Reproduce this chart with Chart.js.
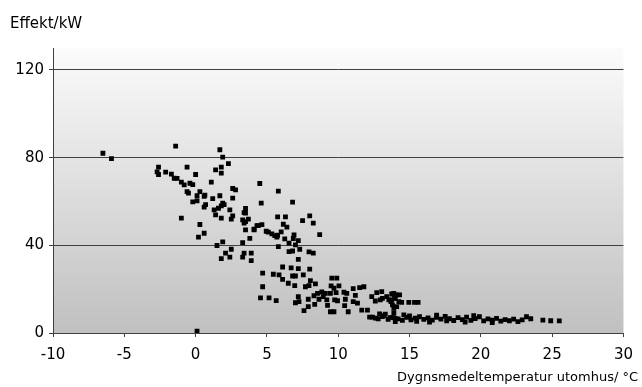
<!DOCTYPE html>
<html>
<head>
<meta charset="utf-8">
<script src="https://cdn.jsdelivr.net/npm/chart.js@4/dist/chart.umd.min.js"></script>
<style>
    html, body { margin: 0; padding: 0; background: #fff; }
    #wrap { width: 642px; height: 387px; }
</style>
</head>
<body>
<div id="wrap"><canvas id="effektChart"></canvas></div>
<script>
const yTitle = "Effekt/kW";
const xTitle = "Dygnsmedeltemperatur utomhus/ °C";

// dygnsmedeltemperatur (°C)
const temps = [
    -6.5, -5.9,
    -2.6, -2.7, -2.6, -2.1, -1.7, -1.5, -1.3, -1.4,
    -1.0, -0.8, -0.6, -0.4, -0.2, 0.0, -0.6, -0.5, 0.3, 0.1, 0.6, 0.65, -0.2, 0.1, 0.7, 0.6, -1.0, 0.3, 0.6, 0.2, 0.1,
    1.1, 1.2, 1.7, 1.9, 2.0, 1.8, 2.6, 2.8, 2.6, 1.3, 1.6, 1.4, 2.4, 2.6, 2.5, 1.8, 1.9, 1.5, 2.5, 2.1, 1.8, 2.4,
    1.7, 1.9, 2.3, 1.8, 1.4, 1.8,
    3.5, 3.4, 3.5, 3.3, 3.5, 3.7, 3.4, 4.3, 4.1, 3.5, 3.8, 3.3, 3.4, 3.9, 3.3, 3.9,
    4.5, 5.8, 4.6, 6.8,
    4.1, 4.4, 4.65, 4.95, 5.1, 5.35, 5.55, 5.7, 6.0, 5.75,
    5.75, 6.3, 6.15, 6.4,
    6.25, 6.55, 6.9, 6.85, 7.2, 7.0, 6.55, 6.8, 7.3, 5.8,
    7.5, 8.0, 8.25, 8.7, 7.95, 8.25, 7.2,
    4.7, 5.45, 4.7, 4.55, 5.15, 5.65,
    6.1, 5.85, 6.1, 6.5, 6.8, 6.7, 7.2, 7.0, 6.95, 7.55, 8.0,
    7.2, 7.0, 7.25, 7.9, 7.9, 7.6, 8.35,
    8.05, 7.7, 7.95, 8.4,
    8.55, 8.85, 9.1, 8.95, 8.3, 8.65,
    9.55, 9.9, 9.5, 9.7, 10.05, 9.45, 9.85, 9.2, 9.25, 9.45, 9.7, 9.75, 9.95,
    10.4, 10.6, 10.5, 10.45, 10.7, 11.2, 11.05, 11.35, 11.05, 11.5, 11.8,
    11.65, 12.05, 12.2, 12.6, 12.9, 13.2, 13.65, 14.0, 13.4, 13.75, 13.75, 13.9, 13.9, 12.7, 12.35, 12.6, 12.95, 14.1, 14.0,
    13.05, 13.1, 13.55, 13.7, 13.9, 13.95, 13.8, 14.1, 14.3, 14.25, 14.45, 14.95, 15.35, 15.6,
    12.4, 12.8, 13.1, 13.5, 13.8, 14.2, 14.5, 14.8, 15.1, 15.4, 15.7, 16.0, 16.3, 16.6, 16.9, 17.2, 17.5, 17.8,
    18.1, 18.4, 18.7, 19.0, 19.3, 19.6, 19.9, 20.2, 20.5, 20.8, 21.1, 21.4, 21.7, 22.0, 22.3, 22.6, 22.9, 23.2, 23.5,
    14.0, 15.0, 16.4, 17.6, 18.9, 19.5, 20.8, 15.5, 16.9, 13.3, 14.6,
    24.35, 24.9, 25.5
];

// effekt (kW)
const power = [
    82, 79.5,
    75.7, 73.5, 72.3, 73.4, 72.5, 70.6, 70.5, 85.2,
    68.8, 67.6, 75.7, 68.3, 67.7, 72.3, 64.5, 63.8, 64.5, 62.6, 62.3, 62.9, 59.8, 60.3, 58.6, 57.4, 52.4, 49.5, 45.5, 43.7, 0.8,
    68.8, 61.3, 62.6, 59.2, 58.6, 58, 65.9, 65.3, 61.5, 56.2, 56.9, 53.9, 56.2, 53.4, 51.9, 52.4, 41.6, 39.9, 38.2, 36.4, 33.9, 34.6,
    83.6, 80.2, 77.3, 75.7, 74.4, 72.9,
    56.8, 54.9, 54.7, 51.6, 50.8, 51.9, 50.1, 49, 47.4, 47, 43.2, 41.2, 36.4, 36.4, 34.6, 33,
    68.2, 64.7, 59.2, 59.7,
    47, 49, 49.4, 46.4, 46, 45.2, 44.4, 43.8, 46.1, 44.6,
    53, 53, 49.6, 48.3,
    42.9, 41, 44.7, 43.1, 42.1, 40.2, 37.1, 37.4, 38.2, 39.4,
    51.3, 53.4, 50.1, 44.9, 37, 36.4, 33.6,
    27.3, 26.8, 21.1, 16, 16, 14.8,
    30.1, 26.5, 24.5, 22.7, 26, 29.7, 29.4, 26, 21.6, 26.5, 29.1,
    16.6, 13.8, 14.3, 15.4, 12, 10.2, 13.1,
    23.9, 21.1, 21.6, 22.4,
    18.1, 18.7, 18.1, 16.6, 17, 15.4,
    25, 25, 21.5, 20.4, 21.5, 18.1, 18.4, 15.1, 12.6, 9.7, 9.7, 15.1, 14.7,
    18.6, 18.1, 15.4, 12.5, 9.7, 17.2, 14.3, 13.6, 20.2, 20.7, 21.1,
    10.4, 10.4, 7.2, 6.8, 8.7, 7.9, 7, 6.7, 16.6, 17.8, 15.1, 11.3, 9, 18.4, 16.6, 14.6, 15.1, 12, 15.8,
    18.9, 15.8, 15.1, 14.3, 18.1, 15.8, 12.8, 17.4, 17.4, 14.3, 14, 14, 14, 14,
    7.2, 6.5, 7.5, 6.2, 7.0, 6.4, 5.8, 7.1, 6.0, 6.8, 7.4, 6.2, 6.9, 5.9, 7.1, 6.3, 7.6, 6.5,
    5.7, 7.0, 6.1, 7.2, 5.8, 6.6, 7.4, 5.5, 6.4, 5.9, 6.7, 5.4, 6.1, 5.6, 6.3, 5.2, 6.0, 7.4, 6.5,
    5.2, 7.8, 5.0, 5.5, 5.0, 7.9, 4.8, 5.3, 8.1, 8.6, 8.3,
    5.9, 5.6, 5.5
];

const points = temps.map((t, i) => ({ x: t, y: power[i] }));

const axisColor = "#404040";
const fontFamily = "'DejaVu Sans', Verdana, sans-serif";

// grå bakgrund + axeltexter
const decorPlugin = {
    id: "decor",
    beforeDraw(chart) {
        const { ctx, chartArea } = chart;
        const g = ctx.createLinearGradient(0, chartArea.top, 0, chartArea.bottom);
        g.addColorStop(0, "#fbfbfb");
        g.addColorStop(1, "#c0c0c0");
        ctx.save();
        ctx.fillStyle = g;
        ctx.fillRect(chartArea.left, chartArea.top, chartArea.right - chartArea.left, chartArea.bottom - chartArea.top);
        ctx.restore();
    },
    afterDraw(chart) {
        const { ctx } = chart;
        ctx.save();
        ctx.fillStyle = "#000";
        ctx.textBaseline = "middle";
        ctx.font = "15px " + fontFamily;
        ctx.textAlign = "left";
        ctx.fillText(yTitle, 10, 24);
        ctx.font = "13px " + fontFamily;
        ctx.textAlign = "right";
        ctx.fillText(xTitle, 638, 378);
        ctx.restore();
    },
};

new Chart(document.getElementById("effektChart"), {
    type: "scatter",
    data: {
        datasets: [
            {
                data: points,
                pointStyle: "rect",
                pointRadius: 3.4,
                pointHoverRadius: 3.4,
                backgroundColor: "#000",
                borderWidth: 0,
            },
        ],
    },
    options: {
        responsive: true,
        maintainAspectRatio: false,
        animation: false,
        layout: {
            padding: { top: 48, right: 16, left: 0, bottom: 0 },
        },
        plugins: {
            legend: { display: false },
            tooltip: { enabled: false },
        },
        scales: {
            x: {
                type: "linear",
                min: -10,
                max: 30,
                afterFit: (scale) => { scale.height = 54; },
                border: { color: axisColor, width: 1 },
                grid: { drawOnChartArea: false, drawTicks: true, tickLength: 4, color: axisColor },
                ticks: {
                    stepSize: 5,
                    padding: 9,
                    color: "#000",
                    font: { family: fontFamily, size: 15 },
                },
            },
            y: {
                min: 0,
                max: 130,
                afterFit: (scale) => { scale.width = 53; },
                border: { color: axisColor, width: 1 },
                grid: { drawTicks: true, tickLength: 4, color: axisColor, lineWidth: 1 },
                ticks: {
                    stepSize: 40,
                    includeBounds: false,
                    padding: 5,
                    color: "#000",
                    font: { family: fontFamily, size: 15 },
                },
            },
        },
    },
    plugins: [decorPlugin],
});
</script>
</body>
</html>
